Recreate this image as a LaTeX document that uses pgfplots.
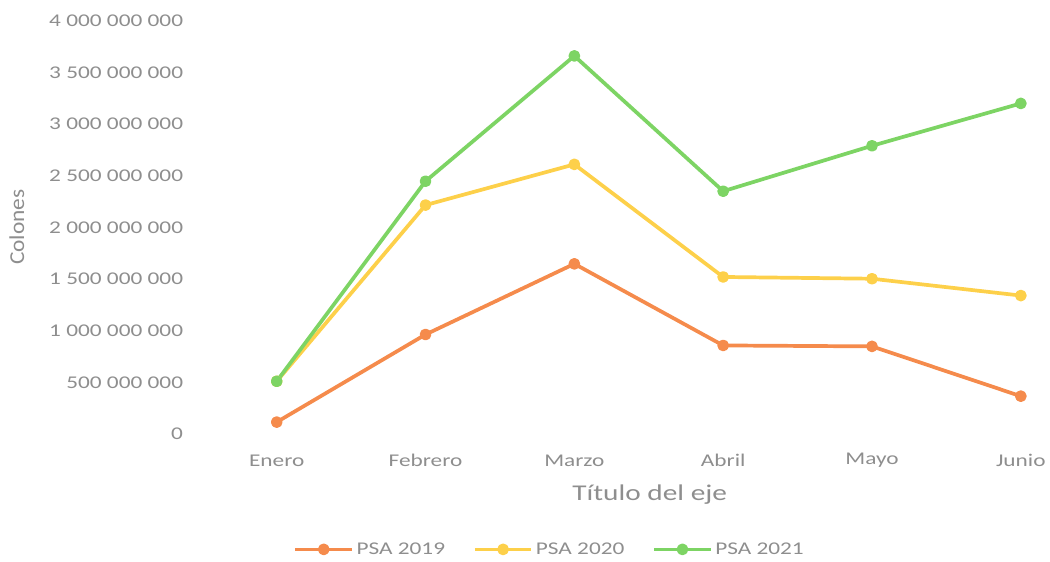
\documentclass[border=0pt]{standalone}
\usepackage{pgfplots}
\pgfplotsset{compat=1.18}
\usepackage{fontspec}
\setmainfont{Carlito}[FakeStretch=1.3]
\newfontfamily\ylabfont{Carlito}[FakeStretch=1.1]
\definecolor{c19}{HTML}{F58B4C}
\definecolor{c20}{HTML}{FDD04A}
\definecolor{c21}{HTML}{7DD464}
\definecolor{txt}{HTML}{8E8E8E}
\begin{document}
\begin{tikzpicture}
\begin{axis}[
  scale only axis, width=631.5pt, height=327pt,
  xmin=-0.5, xmax=5.13, ymin=0, ymax=4.2e9,
  axis line style={draw=none}, major tick length=0pt,
  /pgf/number format/assume math mode=true,
  xtick={0,1,2,3,4,5},
  xticklabels={Enero,Febrero,Marzo,Abril,Mayo,Junio},
  ytick={0,500000000,1000000000,1500000000,2000000000,2500000000,3000000000,3500000000,4000000000},
  yticklabels={0,500~000~000,1~000~000~000,1~500~000~000,2~000~000~000,2~500~000~000,3~000~000~000,3~500~000~000,4~000~000~000},
  scaled y ticks=false,
  ticklabel style={font=\fontsize{13.5}{16}\selectfont, text=txt},
  yticklabel style={anchor=east, xshift=-11pt},
  xticklabel style={anchor=center, yshift=-20pt},
  xlabel={Título del eje},
  xlabel style={font=\fontsize{17}{20}\selectfont, text=txt, at={(axis description cs:0.534,-0.14)}, anchor=center},
  ylabel={Colones},
  ylabel style={font=\ylabfont\fontsize{16}{19}\selectfont, text=txt, at={(axis description cs:-0.2215,0.477)}, anchor=center, rotate=0, inner ysep=7pt},
  legend columns=3,
  legend style={draw=none, fill=none, at={(axis description cs:0.415,-0.266)}, anchor=center,
    font=\fontsize{13.5}{16}\selectfont, text=txt,
    /tikz/every even column/.append style={column sep=19pt}},
  legend image code/.code={\draw[#1, mark repeat=2, mark phase=2] plot coordinates {(0cm,0cm) (0.75cm,0cm) (1.5cm,0cm)};},
  every axis plot/.append style={line width=2.8pt, line join=round, mark=*, mark size=3pt},
]
\addplot[color=c19, mark options={fill=c19, draw=c19}] coordinates {(0,115000000) (1,963000000) (2,1647000000) (3,857000000) (4,848000000) (5,366000000)};
\addplot[color=c20, mark options={fill=c20, draw=c20}] coordinates {(0,510000000) (1,2216000000) (2,2610000000) (3,1520000000) (4,1503000000) (5,1340000000)};
\addplot[color=c21, mark options={fill=c21, draw=c21}] coordinates {(0,510000000) (1,2447000000) (2,3660000000) (3,2350000000) (4,2790000000) (5,3200000000)};
\legend{PSA 2019, PSA 2020, PSA 2021}
\end{axis}
\end{tikzpicture}
\end{document}
